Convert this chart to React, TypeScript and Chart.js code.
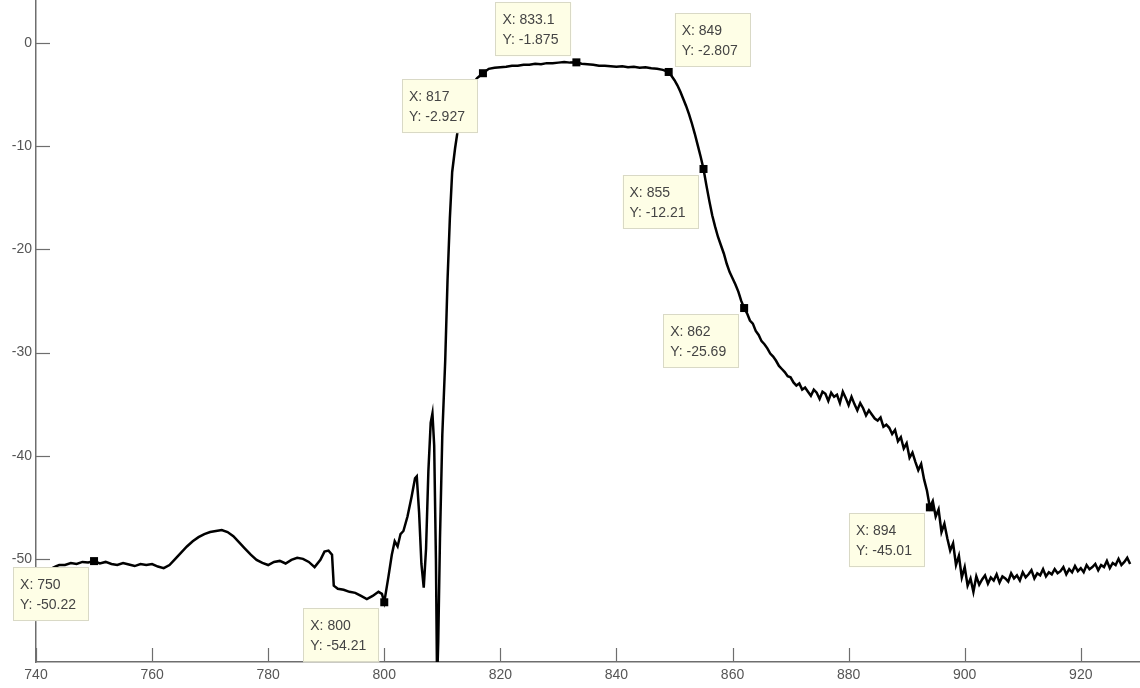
import React, { useEffect, useRef } from 'react';
import { Chart, registerables } from 'chart.js';

Chart.register(...registerables);

// ---- trace data (wavelength vs. level) ----
const baseX = [742.8, 743.5, 744, 745, 746, 747, 748, 749, 750, 751, 752, 753, 754, 755, 756, 757, 758, 759, 760, 761, 762, 763, 764, 765, 766, 767, 768, 769, 770, 771, 772, 773, 774, 775, 776, 777, 778, 779, 780, 781, 782, 783, 784, 785, 786, 787, 788, 789, 789.7, 790.4, 791, 791.3, 792, 793, 794, 795, 796, 797, 798, 799, 799.6];
const baseY = [-50.9, -50.7, -50.6, -50.6, -50.4, -50.5, -50.3, -50.35, -50.22, -50.45, -50.3, -50.5, -50.6, -50.4, -50.55, -50.7, -50.5, -50.6, -50.5, -50.75, -50.9, -50.6, -50.0, -49.4, -48.8, -48.3, -47.9, -47.6, -47.4, -47.3, -47.2, -47.4, -47.8, -48.4, -49.0, -49.6, -50.1, -50.4, -50.6, -50.3, -50.2, -50.45, -50.1, -49.9, -50.0, -50.3, -50.8, -50.1, -49.3, -49.2, -49.6, -52.6, -52.9, -53.0, -53.2, -53.3, -53.6, -53.9, -53.6, -53.2, -53.4];

const spikeX = [800, 800.7, 801.3, 801.8, 802.3, 802.8, 803.3, 804, 804.7, 805.3, 805.6, 806, 806.4, 806.8, 807.2, 807.6, 808, 808.3, 808.6, 808.9, 809.1, 809.3, 809.6, 810, 810.5, 810.9, 811.3, 811.7, 812.2, 812.7, 813.2, 814, 815, 816];
const spikeY = [-54.21, -51.8, -49.6, -48.3, -48.8, -47.6, -47.3, -45.9, -44.0, -42.2, -42.0, -45.5, -50.5, -52.8, -49.0, -41.5, -36.8, -35.9, -39.0, -50.0, -62, -58, -48, -38, -30.8, -23, -17, -12.5, -10.2, -8.3, -7.0, -5.2, -4.1, -3.4];

const plateauX = [817, 818, 819, 820, 821, 822, 823, 824, 825, 826, 827, 828, 829, 830, 831, 832, 833.1, 834, 835, 836, 837, 838, 839, 840, 841, 842, 843, 844, 845, 846, 847, 848, 849];
const plateauY = [-2.927, -2.5, -2.4, -2.35, -2.3, -2.2, -2.2, -2.1, -2.1, -2.0, -2.05, -1.95, -1.95, -1.9, -1.85, -1.9, -1.875, -2.0, -2.05, -2.1, -2.2, -2.2, -2.25, -2.3, -2.25, -2.35, -2.3, -2.4, -2.35, -2.45, -2.5, -2.6, -2.807];

const slopeX = [849.5, 850, 850.5, 851, 851.5, 852, 852.5, 853, 853.5, 854, 854.5, 855, 855.5, 856, 856.5, 857, 857.5, 858, 858.5, 859, 859.5, 860, 860.5, 861, 861.5, 862, 862.5, 863, 863.5, 864, 864.5, 865, 865.5];
const slopeY = [-3.2, -3.6, -4.1, -4.7, -5.4, -6.1, -6.9, -7.8, -8.8, -9.9, -11.0, -12.21, -13.8, -15.3, -16.7, -17.8, -18.8, -19.6, -20.4, -21.4, -22.2, -22.8, -23.4, -24.1, -25.0, -25.69, -26.2, -26.9, -27.2, -27.9, -28.3, -28.9, -29.2];

const tailX = [866, 866.5, 867, 867.5, 868, 868.5, 869, 869.5, 870, 870.5, 871, 871.5, 872, 872.5, 873, 873.5, 874, 874.5, 875, 875.5, 876, 876.5, 877, 877.5, 878, 878.5, 879, 879.5, 880, 880.5, 881, 881.5, 882, 882.5, 883, 883.5, 884, 884.5, 885, 885.5, 886, 886.5, 887, 887.5, 888, 888.5, 889, 889.5, 890, 890.5, 891, 891.5, 892, 892.5, 893, 893.5, 894, 894.5, 895, 895.5, 896, 896.5, 897, 897.5, 898, 898.5, 899, 899.5, 900, 900.5, 901, 901.5, 902, 902.5, 903, 903.5, 904, 904.5, 905, 905.5, 906, 906.5, 907, 907.5, 908, 908.5, 909, 909.5, 910, 910.5, 911, 911.5, 912, 912.5, 913, 913.5, 914, 914.5, 915, 915.5, 916, 916.5, 917, 917.5, 918, 918.5, 919, 919.5, 920, 920.5, 921, 921.5, 922, 922.5, 923, 923.5, 924, 924.5, 925, 925.5, 926, 926.5, 927, 927.5, 928, 928.5];
const tailY = [-29.6, -30.1, -30.4, -30.8, -31.3, -31.6, -31.9, -32.3, -32.4, -32.9, -33.2, -33.0, -33.6, -33.4, -33.8, -34.2, -33.6, -33.9, -34.5, -33.8, -34.0, -34.7, -33.9, -34.3, -34.1, -34.9, -33.8, -34.4, -35.1, -34.3, -35.0, -35.6, -34.9, -35.4, -36.1, -35.6, -36.0, -36.4, -36.6, -36.3, -37.2, -37.0, -37.3, -37.9, -37.5, -38.6, -38.2, -39.3, -38.8, -40.2, -39.7, -40.6, -41.4, -40.8, -42.3, -43.4, -45.01, -44.4, -45.9, -45.2, -47.4, -46.6, -48.0, -49.2, -48.5, -50.6, -49.7, -51.8, -50.8, -52.6, -51.9, -53.2, -51.7, -52.5, -52.0, -51.6, -52.4, -51.8, -52.1, -51.5, -52.3, -51.7, -51.9, -52.2, -51.4, -51.9, -51.6, -52.1, -51.3, -51.8, -51.5, -51.1, -51.9, -51.4, -51.6, -51.0, -51.7, -51.3, -51.5, -51.0, -51.4, -51.2, -50.8, -51.5, -51.0, -51.3, -50.7, -51.2, -50.9, -51.3, -50.6, -51.0, -50.8, -50.5, -51.1, -50.6, -50.8, -50.2, -50.9, -50.4, -50.6, -50.0, -50.6, -50.3, -49.9, -50.5, -49.8, -50.2, -49.7, -50.0];

// ---- data tips ----
const tipX = [750, 800, 817, 833.1, 849, 855, 862, 894];
const tipY = [-50.22, -54.21, -2.927, -1.875, -2.807, -12.21, -25.69, -45.01];
const tipSide = ['bl', 'bl', 'bl', 'tl', 'tr', 'bl', 'bl', 'bl'];

// ---- axes ----
const xTicks = [740, 760, 780, 800, 820, 840, 860, 880, 900, 920];
const yTicks = [0, -10, -20, -30, -40, -50];
const xMin = 740;
const xMax = 930.2;
const yMin = -60;
const yMax = 4.17;

const AXIS_COLOR = '#6e6e6e';
const FONT = '"Liberation Sans", Arial, sans-serif';

const allX = [...baseX, ...spikeX, ...plateauX, ...slopeX, ...tailX];
const allY = [...baseY, ...spikeY, ...plateauY, ...slopeY, ...tailY];

const tipPlugin = {
  id: 'matlabTips',
  afterDatasetsDraw(chart: any) {
    const { ctx, chartArea } = chart;
    const xs = chart.scales.x;
    const ys = chart.scales.y;
    ctx.save();
    // inward tick marks
    ctx.strokeStyle = AXIS_COLOR;
    ctx.lineWidth = 1.2;
    xTicks.forEach((v) => {
      const px = Math.round(xs.getPixelForValue(v)) + 0.5;
      ctx.beginPath();
      ctx.moveTo(px, chartArea.bottom);
      ctx.lineTo(px, chartArea.bottom - 14);
      ctx.stroke();
    });
    yTicks.forEach((v) => {
      const py = Math.round(ys.getPixelForValue(v)) + 0.5;
      ctx.beginPath();
      ctx.moveTo(chartArea.left, py);
      ctx.lineTo(chartArea.left + 14, py);
      ctx.stroke();
    });
    // data tip boxes
    const w = 76;
    const h = 54;
    ctx.font = '14px ' + FONT;
    tipX.forEach((vx, i) => {
      const mx = xs.getPixelForValue(vx);
      const my = ys.getPixelForValue(tipY[i]);
      const side = tipSide[i];
      let bx = mx - 5 - w;
      let by = my + 6;
      if (side === 'tl') {
        bx = mx - 5 - w;
        by = my - 6 - h;
      } else if (side === 'tr') {
        bx = mx + 6;
        by = my - 5 - h;
      }
      ctx.fillStyle = '#fefee6';
      ctx.fillRect(bx, by, w, h);
      ctx.strokeStyle = '#d9d9c6';
      ctx.lineWidth = 1;
      ctx.strokeRect(Math.round(bx) + 0.5, Math.round(by) + 0.5, w - 1, h - 1);
      ctx.fillStyle = '#444444';
      ctx.textAlign = 'left';
      ctx.textBaseline = 'middle';
      ctx.fillText('X: ' + String(vx), bx + 7, by + 18);
      ctx.fillText('Y: ' + String(tipY[i]), bx + 7, by + 38);
    });
    // markers
    ctx.fillStyle = '#000';
    tipX.forEach((vx, i) => {
      const mx = xs.getPixelForValue(vx);
      const my = ys.getPixelForValue(tipY[i]);
      ctx.fillRect(mx - 4, my - 4, 8, 8);
    });
    ctx.restore();
  },
};

export default function App() {
  const canvasRef = useRef<HTMLCanvasElement | null>(null);

  useEffect(() => {
    document.body.style.margin = '0';
    const canvas = canvasRef.current;
    if (!canvas) return;
    const chart = new Chart(canvas, {
      type: 'scatter',
      data: {
        datasets: [
          {
            data: allX.map((x, i) => ({ x, y: allY[i] })),
            showLine: true,
            borderColor: '#000000',
            borderWidth: 2.5,
            borderJoinStyle: 'miter',
            pointRadius: 0,
            pointHoverRadius: 0,
            tension: 0,
            fill: false,
          },
        ],
      },
      options: {
        animation: false,
        responsive: false,
        events: [],
        layout: { padding: 0 },
        plugins: {
          legend: { display: false },
          tooltip: { enabled: false },
        },
        scales: {
          x: {
            type: 'linear',
            min: xMin,
            max: xMax,
            afterBuildTicks: (s: any) => {
              s.ticks = xTicks.map((v) => ({ value: v }));
            },
            afterFit: (s: any) => {
              s.height = 26;
              s.paddingLeft = 0;
              s.paddingRight = 0;
              s.paddingTop = 0;
              s.paddingBottom = 0;
            },
            grid: { display: false, drawTicks: false },
            border: { display: true, color: AXIS_COLOR, width: 1.5 },
            ticks: {
              autoSkip: false,
              maxRotation: 0,
              padding: 5,
              color: '#555555',
              font: { family: FONT, size: 14 },
            },
          },
          y: {
            type: 'linear',
            min: yMin,
            max: yMax,
            afterBuildTicks: (s: any) => {
              s.ticks = yTicks.map((v) => ({ value: v }));
            },
            afterFit: (s: any) => {
              s.width = 36;
              s.paddingLeft = 0;
              s.paddingRight = 0;
              s.paddingTop = 0;
              s.paddingBottom = 0;
            },
            grid: { display: false, drawTicks: false },
            border: { display: true, color: AXIS_COLOR, width: 1.5 },
            ticks: {
              autoSkip: false,
              padding: 4,
              color: '#555555',
              font: { family: FONT, size: 14 },
            },
          },
        },
      },
      plugins: [tipPlugin],
    });
    return () => chart.destroy();
  }, []);

  return (
    <div style={{ position: 'absolute', left: 0, top: 0, width: 1140, height: 688, background: '#fff' }}>
      <canvas ref={canvasRef} width={1140} height={688} />
    </div>
  );
}
